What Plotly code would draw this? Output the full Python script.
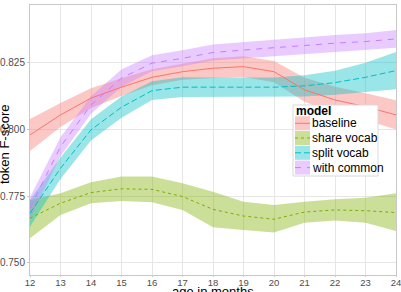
import plotly.graph_objects as go

months = list(range(12, 25))
series_names = ["baseline", "share vocab", "split vocab", "with common"]
colors = ["#F8766D", "#7CAE00", "#00BFC4", "#C77CFF"]
fills = ["rgba(248,118,109,0.4)", "rgba(124,174,0,0.4)", "rgba(0,191,196,0.4)", "rgba(199,124,255,0.4)"]
dashes = ["solid", "3px,3px", "6px,3px", "6px,6px"]

baseline_mean = [0.7979, 0.8054, 0.8117, 0.8158, 0.8195, 0.8216, 0.8229, 0.8235, 0.8216, 0.8148, 0.8110, 0.8085, 0.8054]
baseline_lo = [0.7919, 0.8009, 0.8080, 0.8125, 0.8165, 0.8186, 0.8192, 0.8196, 0.8176, 0.8103, 0.8060, 0.8035, 0.7999]
baseline_hi = [0.8039, 0.8099, 0.8154, 0.8191, 0.8225, 0.8246, 0.8266, 0.8274, 0.8256, 0.8193, 0.8160, 0.8135, 0.8109]

share_mean = [0.7667, 0.7723, 0.7763, 0.7777, 0.7775, 0.7748, 0.7700, 0.7675, 0.7663, 0.7690, 0.7698, 0.7695, 0.7688]
share_lo = [0.7592, 0.7679, 0.7723, 0.7731, 0.7727, 0.7698, 0.7633, 0.7623, 0.7613, 0.7650, 0.7658, 0.7650, 0.7619]
share_hi = [0.7735, 0.7760, 0.7802, 0.7823, 0.7823, 0.7798, 0.7766, 0.7729, 0.7716, 0.7729, 0.7738, 0.7744, 0.7760]

split_mean = [0.7685, 0.7854, 0.7998, 0.8083, 0.8145, 0.8158, 0.8158, 0.8158, 0.8158, 0.8163, 0.8175, 0.8195, 0.8220]
split_lo = [0.7635, 0.7814, 0.7958, 0.8043, 0.8110, 0.8121, 0.8122, 0.8122, 0.8122, 0.8123, 0.8130, 0.8140, 0.8150]
split_hi = [0.7735, 0.7894, 0.8038, 0.8123, 0.8180, 0.8195, 0.8194, 0.8194, 0.8194, 0.8203, 0.8220, 0.8250, 0.8290]

common_mean = [0.7705, 0.7935, 0.8091, 0.8192, 0.8248, 0.8266, 0.8288, 0.8298, 0.8306, 0.8314, 0.8323, 0.8329, 0.8339]
common_lo = [0.7665, 0.7900, 0.8058, 0.8160, 0.8218, 0.8236, 0.8258, 0.8268, 0.8276, 0.8284, 0.8292, 0.8298, 0.8306]
common_hi = [0.7745, 0.7970, 0.8124, 0.8224, 0.8278, 0.8296, 0.8318, 0.8328, 0.8336, 0.8344, 0.8354, 0.8360, 0.8372]

means = [baseline_mean, share_mean, split_mean, common_mean]
los = [baseline_lo, share_lo, split_lo, common_lo]
his = [baseline_hi, share_hi, split_hi, common_hi]

y_ticks = [0.750, 0.775, 0.800, 0.825]
x_ticks = months

W, H = 401, 292
ML, MR, MT, MB = 30, 5, 5, 17
PW, PH = W - ML - MR, H - MT - MB

def px(x):
    return (x - ML) / PW

def py(y):
    return (H - MB - y) / PH

FONT = "Liberation Sans, Arial, sans-serif"

fig = go.Figure()
for i in range(4):
    fig.add_trace(go.Scatter(
        x=months + months[::-1], y=his[i] + los[i][::-1],
        fill="toself", fillcolor=fills[i], line=dict(width=0),
        mode="lines", hoverinfo="skip", showlegend=False))
for i in range(4):
    fig.add_trace(go.Scatter(
        x=months, y=means[i], mode="lines", name=series_names[i],
        line=dict(color=colors[i], width=1, dash=dashes[i]), showlegend=False))

# legend drawn in ggplot style
shapes = []
annotations = []
lx0, lx1, ly0, ly1 = 293, 378, 105, 176
shapes.append(dict(type="rect", xref="paper", yref="paper", x0=px(lx0), x1=px(lx1), y0=py(ly0), y1=py(ly1),
                   fillcolor="white", line=dict(color="#D9D9D9", width=1), layer="above"))
annotations.append(dict(text="<b>model</b>", xref="paper", yref="paper", x=px(294), y=py(110.5),
                        xanchor="left", yanchor="middle", showarrow=False,
                        font=dict(family=FONT, size=12, color="black")))
item_y = [123.3, 138.0, 152.8, 167.6]
for i in range(4):
    cy = item_y[i]
    shapes.append(dict(type="rect", xref="paper", yref="paper", x0=px(295), x1=px(310),
                       y0=py(cy - 7), y1=py(cy + 7), fillcolor=fills[i], line=dict(width=0), layer="above"))
    shapes.append(dict(type="line", xref="paper", yref="paper", x0=px(295), x1=px(310),
                       y0=py(cy), y1=py(cy), line=dict(color=colors[i], width=1, dash=dashes[i]), layer="above"))
    annotations.append(dict(text=series_names[i], xref="paper", yref="paper", x=px(310), y=py(cy),
                            xanchor="left", yanchor="middle", showarrow=False,
                            font=dict(family=FONT, size=12, color="black")))

annotations.append(dict(text="token F-score", xref="paper", yref="paper", x=px(4), y=py(145),
                        xanchor="center", yanchor="middle", textangle=-90, showarrow=False,
                        font=dict(family=FONT, size=13, color="black")))
annotations.append(dict(text="age in months", xref="paper", yref="paper", x=px(213), y=py(282),
                        xanchor="center", yanchor="top", showarrow=False,
                        font=dict(family=FONT, size=13, color="black")))

fig.update_layout(
    template="none",
    width=W, height=H, margin=dict(l=ML, r=MR, t=MT, b=MB, pad=0, autoexpand=False),
    paper_bgcolor="white", plot_bgcolor="white",
    shapes=shapes, annotations=annotations, showlegend=False,
    font=dict(family=FONT),
)
fig.update_xaxes(range=[12, 24], tickvals=x_ticks, ticktext=[str(v) for v in x_ticks], automargin=False,
                 ticklabeloverflow="allow", ticklabelstandoff=-2,
                 showgrid=True, gridcolor="#E6E6E6", gridwidth=1, zeroline=False,
                 showline=True, mirror=True, linecolor="#C8C8C8", linewidth=1,
                 ticks="outside", ticklen=1, tickcolor="#C8C8C8",
                 tickfont=dict(family=FONT, size=9.5, color="#4D4D4D"))
fig.update_yaxes(range=[0.7454, 0.8466], tickvals=y_ticks, ticktext=[f"{v:.3f}" for v in y_ticks], automargin=False,
                 ticklabeloverflow="allow",
                 showgrid=True, gridcolor="#E6E6E6", gridwidth=1, zeroline=False,
                 showline=True, mirror=True, linecolor="#C8C8C8", linewidth=1,
                 ticks="outside", ticklen=2, tickcolor="#C8C8C8",
                 tickfont=dict(family=FONT, size=10, color="#4D4D4D"))

fig.write_html("out.html")
